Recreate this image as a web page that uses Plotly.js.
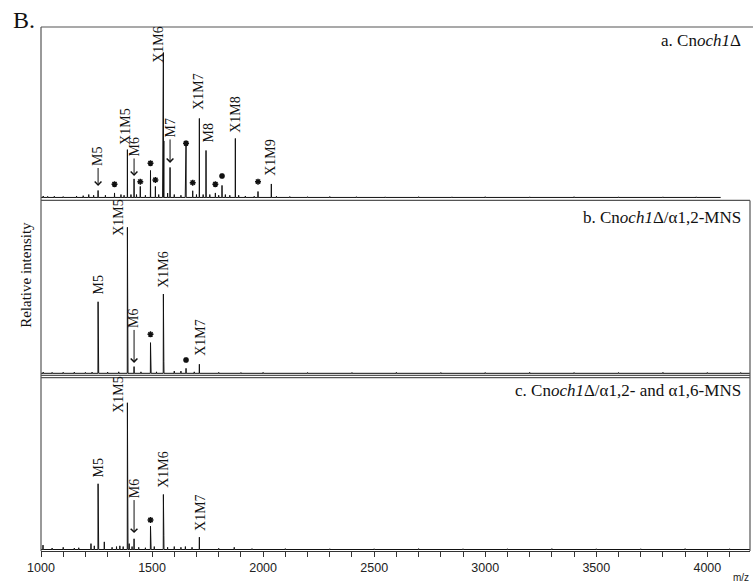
<!DOCTYPE html>
<html><head><meta charset="utf-8">
<script src="https://cdn.plot.ly/plotly-3.0.1.min.js"></script>
<style>html,body{margin:0;padding:0;background:#fff}#chart{width:753px;height:584px}</style>
</head><body><div id="chart"></div>
<script>
// ---- Panel a: Cnoch1Δ ----
const mzA  = [1010,1030,1060,1100,1160,1190,1215,1237,1257,1290,1331,1360,1374,1389,1405,1419,1430,1447,1470,1493,1515,1530,1548,1551,1553,1570,1581,1600,1630,1650,1653,1683,1700,1713,1730,1743,1760,1785,1800,1815,1830,1850,1875,1890,1920,1960,1977,2037,2060,2120,2200,2300,2420,2550,2700,2850,3000,3200,3400,3600,3800,3950];
const intA = [1.0,0.7,0.8,0.6,1.0,1.2,2.0,1.5,4.8,1.5,3.1,2.0,1.5,33,2,12.8,2,7.6,1.5,18.6,7.6,2,18,100,39,3,20.7,2,1.5,7,36,4.6,2,54.5,2,32.4,2,3.1,1.5,8.3,2,1.5,40.7,1.5,1.0,0.8,4.1,9.3,0.8,0.6,0.5,0.6,0.5,0.4,0.5,0.4,0.5,0.4,0.5,0.4,0.4,0.4];
// ---- Panel b: Cnoch1Δ/α1,2-MNS ----
const mzB  = [1010,1050,1100,1150,1200,1230,1257,1259,1300,1350,1389,1391,1419,1450,1493,1495,1520,1551,1553,1600,1630,1653,1690,1713,1800,1900,2000,2200,2400,2600,2800,3000,3200,3400,3600,3800,4000,4150];
const intB = [0.8,0.6,0.7,0.8,0.6,0.8,49,37,0.8,1.0,100,7,4.6,1.0,21,11.6,1.0,54.3,8,1.5,1.5,3.4,1.0,6.2,0.6,0.5,0.6,0.5,0.5,0.6,0.5,0.5,0.6,0.5,0.5,0.6,0.5,0.5];
// ---- Panel c: Cnoch1Δ/α1,2- and α1,6-MNS ----
const mzC  = [1009,1050,1100,1150,1170,1225,1240,1257,1259,1285,1320,1340,1355,1370,1389,1391,1397,1410,1419,1440,1470,1493,1495,1510,1551,1553,1570,1600,1630,1650,1680,1713,1800,1870,1950,2100,2300,2500,2700,2900,3100,3300,3500,3700,3900,4100];
const intC = [3,1.0,1.5,1.0,1.2,4,2.5,44.8,27,5.2,1.5,2,2.5,2,100,9,4,2,7.3,1.5,1.2,15.9,7.5,2,37.5,9.5,1.5,2,1.5,2,1.5,8.4,0.8,1.5,0.6,0.6,0.5,0.5,0.6,0.5,0.5,0.6,0.5,0.5,0.6,0.5];

// Peak labels: [text, m/z, y (text bottom, data units), x shift]
const labelsA = [["X1M5",1389,34.8,-2],["X1M6",1551,91.4,-5],["X1M7",1713,59,-1],["M8",1743,36.2,2],["X1M8",1875,43.1,0],["X1M9",2037,13.4,-1]];
const arrowsA = [["M5",1257,7.9,-29],["M6",1419,14.8,-28.5],["M7",1581,23.8,-34.5]];
// Asterisk-marked peaks: m/z and marker height
const starMzA = [1331,1447,1493,1515,1653,1683,1785,1815,1977];
const starYA  = [9.1,10.9,23.6,12.1,37.4,10.2,9.1,14.8,10.9];

const labelsB = [["M5",1257,52.3,0],["X1M5",1389,92.7,-9],["X1M6",1551,57.1,0],["X1M7",1713,10.5,1]];
const arrowsB = [["M6",1419,7.1,-44]];
const starMzB = [1493,1653];
const starYB  = [26.7,9.1];

const labelsC = [["M5",1257,47.4,0],["X1M5",1389,91.7,-9],["X1M6",1551,40.6,0],["X1M7",1713,11.2,1]];
const arrowsC = [["M6",1419,11.2,-44]];
const starMzC = [1493];
const starYC  = [20.1];

const panelTitles = ["a. Cn<i>och1</i>Δ","b. Cn<i>och1</i>Δ/α1,2-MNS","c. Cn<i>och1</i>Δ/α1,2- and α1,6-MNS"];

function sticks(mz, inten, start, end){
  const idx = mz.map((m,i)=>i).sort((a,b)=>mz[a]-mz[b]);
  const x=[start], y=[0];
  idx.forEach(i=>{ x.push(mz[i]-0.7, mz[i], mz[i]+0.7); y.push(0, inten[i], 0); });
  x.push(end); y.push(0);
  return {x,y};
}
const sA = sticks(mzA,intA,1000,4060);
const sB = sticks(mzB,intB,1000,4195);
const sC = sticks(mzC,intC,1000,4195);
const lineStyle = {color:'#111', width:1};
const starMarker = {symbol:'asterisk-open', size:5, color:'#111', line:{width:1.5, color:'#111'}};
const traces = [
  {x:sA.x, y:sA.y, xaxis:'x', yaxis:'y', type:'scatter', mode:'lines', line:lineStyle, hoverinfo:'skip'},
  {x:sB.x, y:sB.y, xaxis:'x', yaxis:'y2', type:'scatter', mode:'lines', line:lineStyle, hoverinfo:'skip'},
  {x:sC.x, y:sC.y, xaxis:'x', yaxis:'y3', type:'scatter', mode:'lines', line:lineStyle, hoverinfo:'skip'},
  {x:starMzA, y:starYA, xaxis:'x', yaxis:'y', type:'scatter', mode:'markers', marker:starMarker, hoverinfo:'skip'},
  {x:starMzB, y:starYB, xaxis:'x', yaxis:'y2', type:'scatter', mode:'markers', marker:starMarker, hoverinfo:'skip'},
  {x:starMzC, y:starYC, xaxis:'x', yaxis:'y3', type:'scatter', mode:'markers', marker:starMarker, hoverinfo:'skip'}
];

const serif = 'Liberation Serif, Times New Roman, serif';
const ann = [];
function addPanel(labels, arrows, yref){
  labels.forEach(l=>ann.push({text:l[0], x:l[1], y:l[2], xref:'x', yref:yref, textangle:-90, showarrow:false,
    xanchor:'center', yanchor:'bottom', xshift:l[3], font:{family:serif, size:14, color:'#111'}}));
  arrows.forEach(a=>ann.push({text:a[0], x:a[1], y:a[2], xref:'x', yref:yref, textangle:-90, showarrow:true,
    ax:0, ay:a[3], arrowhead:4, arrowsize:1.3, arrowwidth:1, arrowcolor:'#111', font:{family:serif, size:14, color:'#111'}}));
}
addPanel(labelsA, arrowsA, 'y');
addPanel(labelsB, arrowsB, 'y2');
addPanel(labelsC, arrowsC, 'y3');
const titleY = [0.975, 0.636, 0.306];
panelTitles.forEach((t,i)=>ann.push({text:t, x:1, y:titleY[i], xref:'paper', yref:'paper', xanchor:'right', yanchor:'middle',
  xshift:-7, showarrow:false, font:{family:serif, size:17, color:'#111'}}));
ann.push({text:'Relative intensity', x:-0.0212, y:0.527, xref:'paper', yref:'paper', textangle:-90, showarrow:false,
  xanchor:'center', yanchor:'middle', font:{family:serif, size:15, color:'#111'}});
ann.push({text:'B.', x:-0.0423, y:1.0134, xref:'paper', yref:'paper', xanchor:'left', yanchor:'middle', showarrow:false,
  font:{family:serif, size:24, color:'#111'}});
ann.push({text:'m/z', x:1, y:-0.0515, xref:'paper', yref:'paper', xanchor:'right', yanchor:'middle', xshift:1, showarrow:false,
  font:{family:'Liberation Sans, Arial, sans-serif', size:10, color:'#222'}});

const border = {color:'#555', width:1.2};
const shapes = [
  {type:'line', xref:'paper', yref:'paper', x0:0, x1:1.0042, y0:1, y1:1, line:border},
  {type:'line', xref:'paper', yref:'paper', x0:0, x1:0, y0:0, y1:1, line:border},
  {type:'line', xref:'paper', yref:'paper', x0:0, x1:1, y0:0.669, y1:0.669, line:border},
  {type:'line', xref:'paper', yref:'paper', x0:0, x1:1, y0:0.335, y1:0.335, line:border},
  {type:'line', xref:'paper', yref:'paper', x0:0, x1:1, y0:0.331, y1:0.331, line:border},
  {type:'line', xref:'paper', yref:'paper', x0:1, x1:1, y0:0, y1:0.669, line:border}
];

const yBase = {showgrid:false, zeroline:false, showticklabels:false, ticks:'', showline:false, fixedrange:true};
const layout = {
  width:753, height:584,
  margin:{l:41, r:3, t:27, b:33},
  paper_bgcolor:'#fff', plot_bgcolor:'#fff',
  showlegend:false,
  xaxis:{range:[1000,4192], anchor:'y3', tick0:1000, dtick:500, ticks:'outside', ticklen:5, tickcolor:'#333', tickwidth:1,
    minor:{dtick:100, ticks:'outside', ticklen:5, tickcolor:'#333', tickwidth:1},
    showline:true, linecolor:'#333', linewidth:1, showgrid:false, zeroline:false,
    tickfont:{family:'Liberation Sans, Arial, sans-serif', size:12.5, color:'#222'}},
  yaxis: Object.assign({domain:[0.669,1], range:[-2.07,117.6]}, yBase),
  yaxis2: Object.assign({domain:[0.333,0.669], range:[-2.19,118.4]}, yBase),
  yaxis3: Object.assign({domain:[0,0.333], range:[-1.02,117.9]}, yBase),
  annotations: ann,
  shapes: shapes
};
Plotly.newPlot('chart', traces, layout, {staticPlot:true, displayModeBar:false});
</script>
</body></html>
